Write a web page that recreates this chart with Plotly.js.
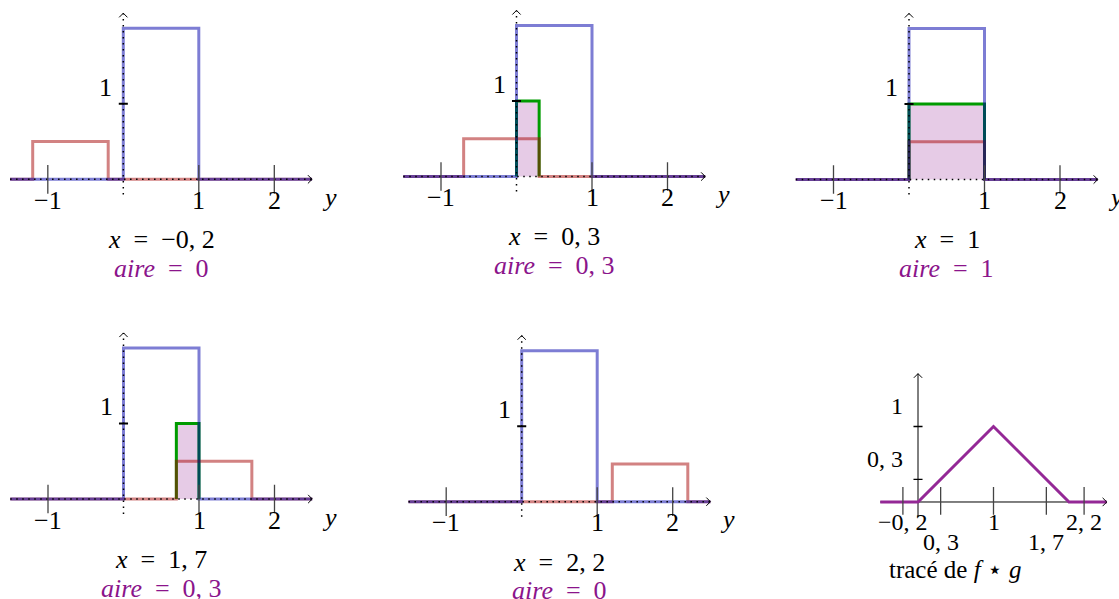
<!DOCTYPE html>
<html>
<head>
<meta charset="utf-8">
<script src="https://cdn.plot.ly/plotly-3.0.1.min.js"></script>
<style>
  html, body { margin: 0; padding: 0; background: #fff; }
  #chart { width: 1119px; height: 599px; }
</style>
</head>
<body>
<div id="chart"></div>
<script>
// f = 2·1[0,1] and g = 0,5·1[0,1]; each panel shows f(y), g(x − y) and their product for one x
const shifts = [-0.2, 0.3, 1, 1.7, 2.2];
const shiftLabels = ['−0, 2', '0, 3', '1', '1, 7', '2, 2'];
const areaLabels = ['0', '0, 3', '1', '0, 3', '0'];
const fSupport = [0, 1];
const fHeight = 2;
const gWidth = 1;
const gHeight = 0.5;
const axisTicks = [-1, 1, 2];
const axisTickLabels = ['−1', '1', '2'];
const heightTicks = [1];
const heightTickLabels = ['1'];

// f ⋆ g through its corner points
const convX = [-0.5, 0, 1, 2, 2.5];
const convY = [0, 0, 1, 0, 0];
const convTicks = [-0.2, 0.3, 1, 1.7, 2.2];
const convTickLabels = ['−0, 2', '0, 3', '1', '1, 7', '2, 2'];
const convHeightTicks = [0.3, 1];
const convHeightLabels = ['0, 3', '1'];

// ---- geometry: every panel uses the same pixel scale on both axes
const W = 1119, H = 599, UNIT = 75.5;
const origins = [[123.3, 179.3], [516.5, 176.5], [909, 179.5], [123.5, 499], [521.7, 501.7]];
const convOrigin = [918, 502];
const AX_LO = -1.5, AX_HI = 2.5, V_LO = -0.2, V_HI = 2.2;

const BLUE = 'rgba(0,0,171,0.51)';
const RED = 'rgba(165,5,5,0.5)';
const GREEN = 'rgb(0,155,0)';
const FILL = 'rgba(140,20,140,0.22)';
const PURPLE = 'rgb(148,40,150)';
const AIRE = 'rgb(139,20,139)';
const TICK = '#444';
const FAMILY = 'Liberation Serif';
const FONT = { family: FAMILY, size: 26, color: '#000' };
const SMALL = { family: FAMILY, size: 24, color: '#000' };
const DOTS = '1.5px,4.5px';
const SP = '\u2002';   // en space around relations

const traces = [];
const annotations = [];
const layout = {
  width: W, height: H,
  margin: { l: 0, r: 0, t: 0, b: 0, pad: 0 },
  paper_bgcolor: '#fff', plot_bgcolor: 'rgba(0,0,0,0)',
  showlegend: false, hovermode: false,
  annotations: annotations
};

function placeAxes(k, origin, xr, yr) {
  const [ox, oy] = origin;
  const x0 = Math.max(xr[0], -ox / UNIT + 1e-6);
  const x1 = Math.min(xr[1], (W - ox) / UNIT - 1e-6);
  const y0 = Math.max(yr[0], -(H - oy) / UNIT + 1e-6);
  const y1 = Math.min(yr[1], oy / UNIT - 1e-6);
  const sx = k === 1 ? '' : String(k);
  layout['xaxis' + sx] = {
    domain: [(ox + x0 * UNIT) / W, (ox + x1 * UNIT) / W],
    range: [x0, x1], visible: false, fixedrange: true, anchor: 'y' + sx
  };
  layout['yaxis' + sx] = {
    domain: [1 - (oy - y0 * UNIT) / H, 1 - (oy - y1 * UNIT) / H],
    range: [y0, y1], visible: false, fixedrange: true, anchor: 'x' + sx
  };
  return { xa: 'x' + sx, ya: 'y' + sx };
}

function line(ax, xs, ys, color, width, dash, extra) {
  traces.push(Object.assign({
    type: 'scatter', mode: 'lines', x: xs, y: ys,
    xaxis: ax.xa, yaxis: ax.ya,
    line: { color: color, width: width, dash: dash || 'solid' },
    hoverinfo: 'skip', showlegend: false
  }, extra || {}));
}

function label(ax, x, y, text, opts) {
  annotations.push(Object.assign({
    xref: ax.xa, yref: ax.ya, x: x, y: y, text: text,
    showarrow: false, font: FONT, xanchor: 'center', yanchor: 'middle'
  }, opts || {}));
}

// indicator pulse of height h on [a, b], drawn over the whole axis
function pulse(a, b, h) {
  return { x: [AX_LO, a, a, b, b, AX_HI], y: [0, 0, h, h, 0, 0] };
}

function arrowheads(ax, xEnd, yEnd) {
  const a = 0.055;
  line(ax, [xEnd - a, xEnd, xEnd - a], [a, 0, -a], '#000', 1);
  line(ax, [-a, 0, a], [yEnd - a, yEnd, yEnd - a], '#000', 1);
}

// ---- the five snapshots of the sliding product
shifts.forEach((s, i) => {
  const ax = placeAxes(i + 1, origins[i], [-1.62, 2.95], [-1.3, 2.3]);

  const lo = Math.max(fSupport[0], s - gWidth);
  const hi = Math.min(fSupport[1], s);
  if (hi > lo) {
    const h = fHeight * gHeight;
    line(ax, [lo, lo, hi, hi, lo], [0, h, h, 0, 0], 'rgba(0,0,0,0)', 0, null,
      { fill: 'toself', fillcolor: FILL });
    line(ax, [lo, lo, hi, hi], [0, h, h, 0], GREEN, 3);
  }

  const g = pulse(s - gWidth, s, gHeight);
  line(ax, g.x, g.y, RED, 3);
  const f = pulse(fSupport[0], fSupport[1], fHeight);
  line(ax, f.x, f.y, BLUE, 3);

  line(ax, [AX_LO, AX_HI], [0, 0], '#000', 1.5, DOTS);
  line(ax, [0, 0], [V_LO, V_HI], '#000', 1.5, DOTS);
  arrowheads(ax, AX_HI, V_HI);

  axisTicks.forEach(t => line(ax, [t, t], [-0.19, 0.19], TICK, 1.3));
  heightTicks.forEach(t => line(ax, [-0.06, 0.06], [t, t], '#000', 2));

  axisTicks.forEach((t, j) => label(ax, t, -0.28, axisTickLabels[j]));
  heightTicks.forEach((t, j) => label(ax, -0.23, t + 0.22, heightTickLabels[j]));
  label(ax, 2.73, -0.24, '<i>y</i>');

  label(ax, 0.5, -0.8, '<i>x</i>' + SP + '=' + SP + shiftLabels[i]);
  label(ax, 0.5, -1.18, '<i>aire</i>' + SP + '=' + SP + areaLabels[i],
    { font: Object.assign({}, FONT, { color: AIRE }) });
});

// ---- graph of the convolution
const cax = placeAxes(6, convOrigin, [-0.6, 2.65], [-1.0, 1.9]);
line(cax, [-0.5, 2.5], [0, 0], '#000', 1);
line(cax, [0, 0], [-0.2, 1.7], '#000', 1);
line(cax, convX, convY, PURPLE, 3);
arrowheads(cax, 2.5, 1.7);
convTicks.forEach(t => line(cax, [t, t], [-0.17, 0.2], TICK, 1.3));
convHeightTicks.forEach(t => line(cax, [-0.06, 0.06], [t, t], '#000', 1.3));
convTicks.forEach((t, j) => label(cax, t, j % 2 ? -0.53 : -0.26, convTickLabels[j], { font: SMALL }));
convHeightTicks.forEach((t, j) => label(cax, -0.17, t + 0.27, convHeightLabels[j], { xanchor: 'right', font: SMALL }));
label(cax, 0.49, -0.89, 'tracé de <i>f</i> \u22C6 <i>g</i>', { font: Object.assign({}, SMALL, { size: 25 }) });

Plotly.newPlot('chart', traces, layout, { staticPlot: true, displayModeBar: false });
</script>
</body>
</html>
